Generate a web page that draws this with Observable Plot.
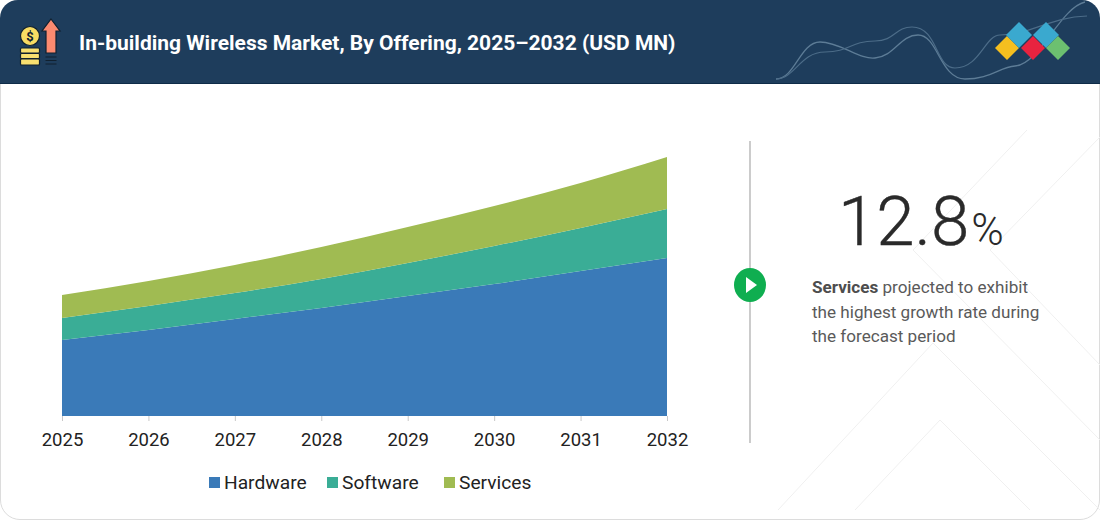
<!DOCTYPE html>
<html><head><meta charset="utf-8">
<script src="https://cdn.jsdelivr.net/npm/d3@7"></script>
<script src="https://cdn.jsdelivr.net/npm/@observablehq/plot@0.6"></script>
<style>
html,body{margin:0;padding:0;background:#fff;font-family:Roboto,sans-serif}
#page{position:relative;width:1100px;height:520px;overflow:hidden}
#card{position:absolute;left:0;top:0;width:1098px;height:518px;border:1px solid #dcdcdc;border-radius:20px;overflow:hidden;background:#fff}
#decor{position:absolute;left:0;top:0}
#head{position:absolute;left:0;top:0;width:1100px;height:83px;background:#1e3d5c;border-bottom:1px solid #0f2c48;border-radius:18px 18px 0 0}
#title{position:absolute;left:79px;top:31px;color:#fff;font-size:21px;font-weight:700;line-height:24px;white-space:nowrap}
#chart{position:absolute;left:0;top:84px}
#legend{position:absolute;top:472px;left:0;height:22px;font-size:19.200px;color:#222}
.k{position:absolute;top:0;line-height:21px;white-space:nowrap}
.s{position:absolute;top:5px;width:11px;height:11px}
#big{position:absolute;left:838px;top:180px;font-size:69px;font-weight:300;line-height:84px;color:#2a2a2a;white-space:nowrap;-webkit-text-stroke:0.4px #2a2a2a}
#big span{font-size:44px;margin-left:2px;-webkit-text-stroke:0}
#note{position:absolute;left:812px;top:275px;font-size:17.100px;line-height:24.600px;color:#5a5a5a;white-space:nowrap}
#note b{font-weight:700;color:#4d4d4d}
</style></head><body>
<div id="page"><div id="card"></div>
<svg id="decor" width="1100" height="520" fill="none">
 <g stroke="#f0f0f0" stroke-width="1">
  <path d="M1027 130L913 250L1100 440"/><path d="M1100 137L990 250L1100 365"/>
  <path d="M778 510L933 343L1100 510"/><path d="M855 510L940 420L1030 510"/>
 </g>
 <path d="M750 141V443" stroke="#b0b0b0" stroke-width="1.300"/>
 <ellipse cx="750" cy="285" rx="16" ry="17" fill="#0fae50"/>
 <path d="M746 277L757 285L746 293Z" fill="#fff"/>
</svg>
<div id="head"></div>
<svg id="hdeco" width="1100" height="84" style="position:absolute;left:0;top:0" fill="none">
 <path d="M776 79C795 79 800 42 820 42C840 42 860 60 875 58C895 56 900 35 918 35C938 35 940 79 965 79C990 79 1000 67 1015 66C1040 64 1060 8 1085 2" stroke="#5d7c96" stroke-width="1.300"/>
 <path d="M776 79C795 79 800 52 825 52C850 52 850 41 875 41C895 41 895 27 912 27C938 27 935 68 955 68C980 68 985 35 1000 35C1030 35 1050 17 1087 16" stroke="#4c6c88" stroke-width="1.200"/>
 <path d="M1007 36L1019 48L1007 60L995 48Z" fill="#f5bf1f"/>
 <path d="M1019 22L1032 35L1019 48L1006 35Z" fill="#3aa9cf"/>
 <path d="M1033 36L1045 48L1033 60L1021 48Z" fill="#e8233f"/>
 <path d="M1046 22L1059 35L1046 48L1033 35Z" fill="#3aa9cf"/>
 <path d="M1058 36L1070 48L1058 60L1046 48Z" fill="#6cc070"/>
 <g stroke="#10202f" stroke-width="1.200">
  <circle cx="30" cy="36" r="9.500" fill="#f8dc63"/>
  <rect x="20.500" y="48" width="19" height="5" rx="1" fill="#f8e070"/>
  <rect x="20.500" y="53.500" width="19" height="5" rx="1" fill="#f8e070"/>
  <rect x="20.500" y="59" width="19" height="6" rx="1" fill="#f8e070"/>
  <path d="M51 19L60 31H56V53H46V31H42Z" fill="#fb8a70"/>
  <path d="M45.500 57H56.500M45.500 60.500H56.500M45.500 64H56.500"/>
 </g>
 <text x="30" y="40.500" text-anchor="middle" font-size="13" font-family="Roboto" font-weight="700" fill="#10202f">$</text>
</svg>
<div id="title">In-building Wireless Market, By Offering, 2025–2032 (USD MN)</div>
<div id="chart"></div>
<div id="legend"></div>
<div id="big">12.8<span>%</span></div>
<div id="note"><b>Services</b> projected to exhibit<br>the highest growth rate during<br>the forecast period</div>
</div>
<script>
const years = [2025, 2026, 2027, 2028, 2029, 2030, 2031, 2032];
const hardware = [76, 86, 97, 108, 120, 132, 145, 158];
const software = [22, 24, 26, 29, 33, 38, 43, 49];
const services = [23, 25, 28, 32, 36, 40, 45, 52];
const seriesNames = ["Hardware", "Software", "Services"];
const seriesColors = ["#3a7ab8", "#3aad96", "#a0bb52"];
const seriesValues = [hardware, software, services];
const rows = seriesNames.flatMap((name, i) =>
  years.map((year, j) => ({year, name, value: seriesValues[i][j]})));

const plot = Plot.plot({
  width: 700, height: 436,
  marginLeft: 62, marginRight: 33, marginTop: 20, marginBottom: 104,
  style: {fontFamily: "Roboto, sans-serif", background: "transparent", overflow: "visible"},
  x: {domain: [2025, 2032], axis: null},
  y: {domain: [0, 312], axis: null},
  color: {domain: seriesNames, range: seriesColors},
  marks: [
    Plot.areaY(rows, {x: "year", y: "value", fill: "name", z: "name", order: seriesNames, curve: "monotone-x"}),
    Plot.axisX({ticks: years, tickFormat: d => String(d), tickSize: 5, tickPadding: 11, stroke: "#c8c8c8", fontSize: 18.500, fill: "#222", label: null})
  ]
});
document.getElementById("chart").append(plot);
const pos = [[209, 224], [327, 342], [444, 459]];
const legend = document.getElementById("legend");
seriesNames.forEach((n, i) => {
  legend.insertAdjacentHTML("beforeend",
    `<span class="s" style="left:${pos[i][0]}px;background:${seriesColors[i]}"></span><span class="k" style="left:${pos[i][1]}px">${n}</span>`);
});
</script></body></html>
